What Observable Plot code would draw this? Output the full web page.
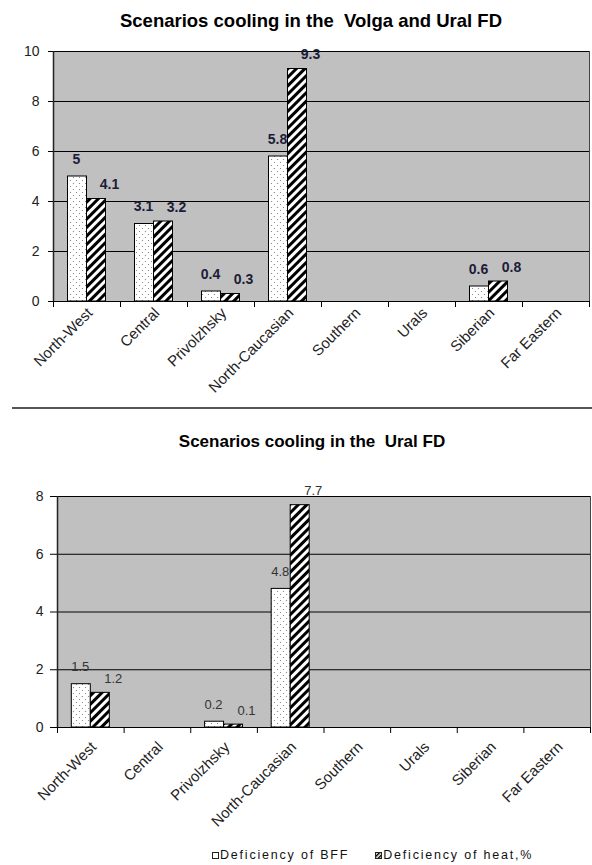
<!DOCTYPE html>
<html>
<head>
<meta charset="utf-8">
<script src="https://cdn.jsdelivr.net/npm/d3@7"></script>
<script src="https://cdn.jsdelivr.net/npm/@observablehq/plot@0.6"></script>
<style>
  body { margin: 0; background: #fff; font-family: "Liberation Sans", Arial, sans-serif; }
  #page { position: relative; width: 592px; height: 865px; overflow: hidden; }
  .title { position: absolute; width: 592px; text-align: center; font-weight: bold; white-space: pre; color: #000; line-height: 1; }
  .sep { position: absolute; left: 12px; width: 580px; top: 407px; height: 0; border-top: 2px solid #555; }
  .legend { position: absolute; top: 849px; left: 212px; font-size: 12.5px; letter-spacing: 1.8px; color: #111; white-space: pre; display: flex; align-items: center; line-height: 1; }
  .legend svg { margin-right: 1px; }
  .legend span.item { display: inline-flex; align-items: center; }
</style>
</head>
<body>
<div id="page">
  <svg width="0" height="0" style="position:absolute">
    <defs>
      <pattern id="dots" patternUnits="userSpaceOnUse" width="6" height="6">
        <rect width="6" height="6" fill="#fff"></rect>
        <circle cx="1.5" cy="1.5" r="0.6" fill="#777"></circle>
        <circle cx="4.5" cy="4.5" r="0.6" fill="#777"></circle>
      </pattern>
      <pattern id="hatch" patternUnits="userSpaceOnUse" width="6" height="6" patternTransform="rotate(45)">
        <rect width="6" height="6" fill="#fff"></rect>
        <rect width="3" height="6" fill="#000"></rect>
      </pattern>
      <pattern id="hatchSmall" patternUnits="userSpaceOnUse" width="3" height="3" patternTransform="rotate(45)">
        <rect width="3" height="3" fill="#fff"></rect>
        <rect width="1.5" height="3" fill="#000"></rect>
      </pattern>
    </defs>
  </svg>
  <div class="title" style="left:15px; top:12px; font-size:18.5px;">Scenarios cooling in the  Volga and Ural FD</div>
  <div id="c1" style="position:absolute; left:0; top:32px;"></div>
  <div class="sep"></div>
  <div class="title" style="left:16px; top:433px; font-size:17px;">Scenarios cooling in the  Ural FD</div>
  <div id="c2" style="position:absolute; left:0; top:470px;"></div>
  <div class="legend">
    <span class="item"><svg width="7" height="7"><rect x="0.5" y="0.5" width="6" height="6" fill="#fff" stroke="#222"></rect></svg>Deficiency of BFF</span>
    <span style="display:inline-block;width:26px"></span>
    <span class="item"><svg width="7" height="7"><rect x="0.5" y="0.5" width="6" height="6" fill="url(#hatchSmall)" stroke="#222"></rect></svg>Deficiency of heat,%</span>
  </div>
</div>
<script>
const categories = ["North-West", "Central", "Privolzhsky", "North-Caucasian", "Southern", "Urals", "Siberian", "Far Eastern"];
const seriesNames = ["Deficiency of BFF", "Deficiency of heat,%"];

// Chart 1: Scenarios cooling in the Volga and Ural FD
const bff1 = [5, 3.1, 0.4, 5.8, null, null, 0.6, null];
const heat1 = [4.1, 3.2, 0.3, 9.3, null, null, 0.8, null];
const yTicks1 = [0, 2, 4, 6, 8, 10];

// Chart 2: Scenarios cooling in the Ural FD
const bff2 = [1.5, null, 0.2, 4.8, null, null, null, null];
const heat2 = [1.2, null, 0.1, 7.7, null, null, null, null];
const yTicks2 = [0, 2, 4, 6, 8];

function makeChart({bff, heat, yTicks, height, marginTop, marginBottom, marginLeft, marginRight,
                    yTickSize, yTickPadding, xTickPadding, labelWeight, labelColor, labelSize}) {
  const W = 592;
  const bw = (W - marginLeft - marginRight) / categories.length;
  const barW = 19;
  const plotH = height - marginTop - marginBottom;
  const yMax = yTicks[yTicks.length - 1];
  const unit = plotH / yMax;
  const rows = categories.map((c, i) => ({region: c, bff: bff[i], heat: heat[i]}));
  const bRows = rows.filter(d => d.bff != null);
  const hRows = rows.filter(d => d.heat != null);
  return Plot.plot({
    width: W, height, marginTop, marginBottom, marginLeft, marginRight,
    x: {domain: categories, padding: 0, round: false, axis: null, label: null},
    y: {domain: [0, yMax], axis: null, label: null},
    style: {fontFamily: "'Liberation Sans', Arial, sans-serif", color: "#222", background: "transparent"},
    marks: [
      Plot.frame({fill: "#c0c0c0", stroke: "#444"}),
      Plot.ruleY(yTicks, {stroke: "#000", strokeWidth: 1}),
      Plot.axisY(yTicks, {tickSize: yTickSize, tickPadding: yTickPadding, fontSize: 14, stroke: "#000", fill: "#222", tickFormat: d => String(d), label: null}),
      Plot.barY(bRows, {x: "region", y: "bff", fill: "url(#dots)", stroke: "#000", strokeWidth: 1, insetLeft: bw / 2 - barW, insetRight: bw / 2}),
      Plot.barY(hRows, {x: "region", y: "heat", fill: "url(#hatch)", stroke: "#000", strokeWidth: 1, insetLeft: bw / 2, insetRight: bw / 2 - barW}),
      Plot.text(bRows, {x: "region", y: "bff", text: d => String(d.bff), dx: -barW / 2 - 1, dy: -17, fontSize: labelSize, fontWeight: labelWeight, fill: labelColor}),
      Plot.text(hRows, {x: "region", y: "heat", text: d => String(d.heat), dx: barW / 2 + 13, dy: -14, fontSize: labelSize, fontWeight: labelWeight, fill: labelColor}),
      Plot.ruleX([0], {x: () => categories[0], dx: -bw / 2, stroke: "#222", strokeWidth: 1.5}),
      Plot.ruleY([0], {stroke: "#000"}),
      Plot.ruleX(categories, {x: d => d, y1: 0, y2: -6 / unit, dx: -bw / 2, stroke: "#000"}),
      Plot.ruleX([categories[categories.length - 1]], {x: d => d, y1: 0, y2: -6 / unit, dx: bw / 2, stroke: "#000"}),
      Plot.axisX(categories, {tickSize: 0, tickRotate: -45, tickPadding: xTickPadding, dx: 3, fontSize: 15, fill: "#222", label: null})
    ]
  });
}

document.getElementById("c1").append(makeChart({
  bff: bff1, heat: heat1, yTicks: yTicks1, height: 374,
  marginTop: 19, marginBottom: 105, marginLeft: 53, marginRight: 3,
  yTickSize: 5, yTickPadding: 9, xTickPadding: 9,
  labelWeight: "bold", labelColor: "#1c1c38", labelSize: 14
}));
document.getElementById("c2").append(makeChart({
  bff: bff2, heat: heat2, yTicks: yTicks2, height: 374,
  marginTop: 26, marginBottom: 117, marginLeft: 57, marginRight: 2,
  yTickSize: 7, yTickPadding: 7, xTickPadding: 17,
  labelWeight: "normal", labelColor: "#333", labelSize: 13
}));
</script>
</body>
</html>
